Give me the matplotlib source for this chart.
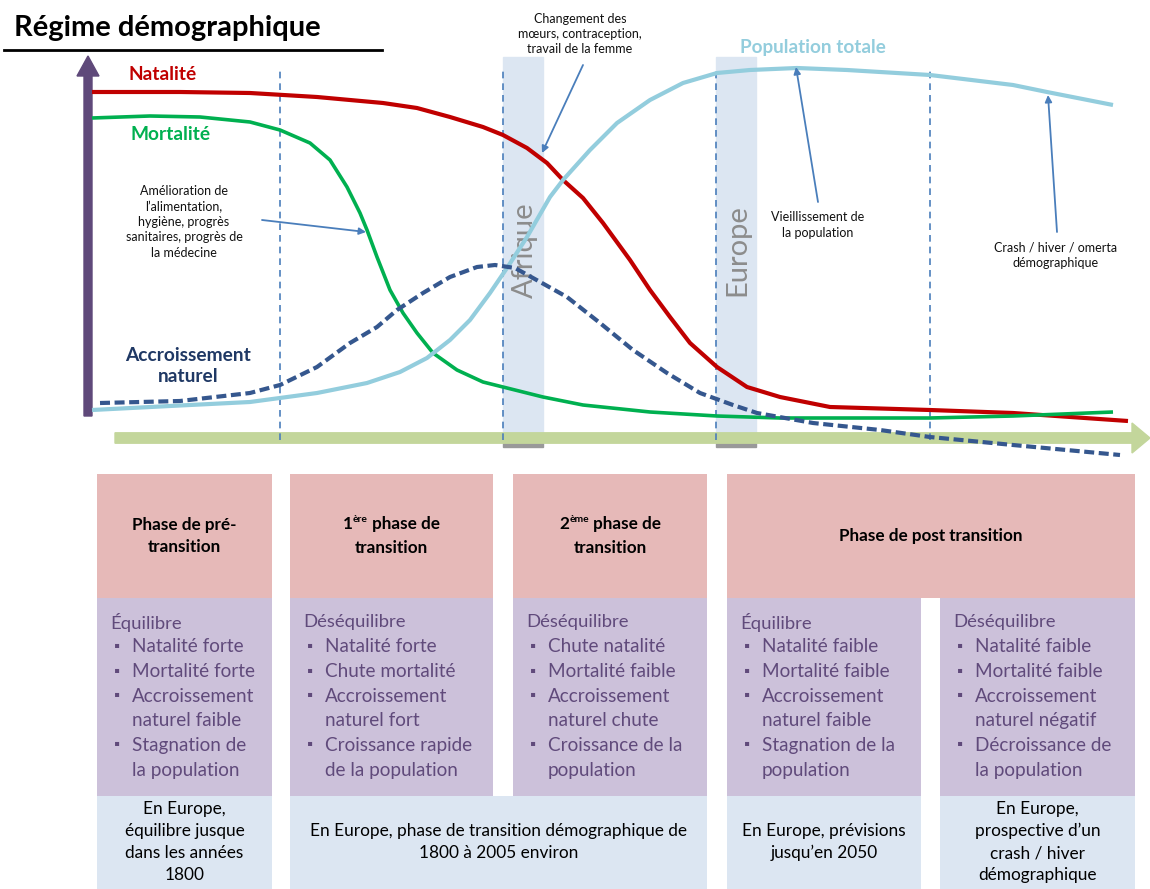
import matplotlib
matplotlib.use('Agg')
import matplotlib.pyplot as plt
from matplotlib.patches import Rectangle, FancyArrow

plt.rcParams['font.family'] = ['Lato', 'DejaVu Sans']

# Curves (schematic): t = time (0-105), value = rate / level (0-100)
nat_t = [0.2, 9, 16, 22.7, 29.3, 32.7, 36, 39.3, 41.3, 43.7, 45.7, 47.3, 49.3, 51.3, 54,
         56, 58, 60, 62.7, 65.7, 69, 74, 84, 92.3, 103.8]
nat_v = [92, 92, 91.75, 90.75, 89.25, 88, 85.75, 83.25, 81.25, 78, 74.25, 70, 65.5, 59.25,
         50, 42.5, 35.75, 29.25, 23.25, 18.25, 15.75, 13.25, 12.5, 11.75, 9.75]

mort_t = [0.2, 6, 11, 16, 19, 22, 24, 25.7, 27, 27.7, 28.7, 30, 31.3, 32.7, 34.3, 36.7,
          39.3, 41.3, 45.3, 49.3, 56, 62.7, 69, 76, 84, 92.3, 102.3]
mort_v = [85.5, 86, 85.75, 84.5, 82.5, 79.25, 75, 68.25, 61.75, 57.5, 50.75, 42.5, 36.75,
          31.75, 26.75, 22.5, 19.5, 18.25, 15.75, 13.75, 12, 11, 10.5, 10.5, 10.5, 11, 12]

pop_t = [0.2, 8, 16, 22.7, 27.7, 31, 33.7, 36, 38, 40, 41.7, 43.7, 46, 47.3, 50, 52.7,
         56, 59.3, 62.7, 66, 70.7, 75.7, 84, 92.3, 95.7, 102.3]
pop_v = [12.5, 13.5, 14.5, 16.75, 19.25, 22, 25.5, 30, 35, 41.75, 48, 55.75, 65.75, 70,
         77.5, 84.25, 90, 94.25, 96.75, 97.5, 98, 97.5, 96.25, 93.75, 92, 88.75]

acc_t = [1, 9, 16, 19, 22.7, 26, 28.7, 30.7, 33.3, 36, 38.7, 40.5, 42.5, 44.3, 47.7, 51,
         54.3, 57.7, 61, 64.3, 66.7, 72.3, 79, 84, 92.3, 103]
acc_v = [14.25, 14.75, 16.75, 18.75, 23.25, 29.25, 33.25, 37.5, 41.75, 45.75, 48.25,
         48.75, 48, 45.5, 40.75, 34.25, 27.5, 21.75, 16.75, 13.75, 11.75, 9.25, 7.5, 5.75,
         3.75, 1.25]

phase_bounds = [19, 41.3, 62.6, 84]
bands = [(41.3, 45.3, "Afrique"), (62.6, 66.6, "Europe")]

phase_titles = ["Phase de pré-\ntransition", None, None, "Phase de post transition"]
col_heads = ["Équilibre", "Déséquilibre", "Déséquilibre", "Équilibre", "Déséquilibre"]
col_items = [
    ["Natalité forte", "Mortalité forte", "Accroissement\nnaturel faible", "Stagnation de\nla population"],
    ["Natalité forte", "Chute mortalité", "Accroissement\nnaturel fort", "Croissance rapide\nde la population"],
    ["Chute natalité", "Mortalité faible", "Accroissement\nnaturel chute", "Croissance de la\npopulation"],
    ["Natalité faible", "Mortalité faible", "Accroissement\nnaturel faible", "Stagnation de la\npopulation"],
    ["Natalité faible", "Mortalité faible", "Accroissement\nnaturel négatif", "Décroissance de\nla population"],
]
bottom_texts = ["En Europe,\néquilibre jusque\ndans les années\n1800",
                "En Europe, phase de transition démographique de\n1800 à 2005 environ",
                "En Europe, prévisions\njusqu’en 2050",
                "En Europe,\nprospective d’un\ncrash / hiver\ndémographique"]

RED = '#C00000'
GREEN = '#00B050'
LBLUE = '#93CDDD'
DBLUE = '#35578E'
NAVY = '#1F3864'
ARROW = '#4A7EBB'
PINK = '#E6B9B8'
LILAC = '#CCC1DA'
PALE = '#DCE6F2'
PURPLE_TXT = '#604A7B'

fig = plt.figure(figsize=(11.5, 8.89), dpi=100)
bg = fig.add_axes([0, 0, 1, 1])
bg.set_xlim(0, 1150)
bg.set_ylim(889, 0)
bg.axis('off')
px = bg.transData

# title
bg.text(14, 28, "Régime démographique", fontsize=21, fontweight='bold', va='center', ha='left')
bg.plot([4, 382], [50, 50], color='black', lw=2)

# chart area
ch = fig.add_axes([90 / 1150, (889 - 460) / 889, 1050 / 1150, 400 / 889])
ch.set_xlim(0, 105)
ch.set_ylim(0, 100)
ch.axis('off')
ch.patch.set_alpha(0)

for x0, x1, name in bands:
    ch.add_patch(Rectangle((x0, 5), x1 - x0, 95.75, color=PALE, zorder=1, clip_on=False))
    ch.add_patch(Rectangle((x0, 3.2), x1 - x0, 1.1, color='#999999', zorder=1, clip_on=False))
    ch.text((x0 + x1) / 2 + 0.15, 52.5, name, rotation=90, fontsize=21, color='#8C8C8C',
            ha='center', va='center', zorder=2)

# axes arrows
ch.add_patch(FancyArrow(-0.2, 11, 0, 90, width=0.8, head_width=2.2, head_length=5,
                        length_includes_head=True, color='#5F497A', zorder=2, clip_on=False))
ch.add_patch(FancyArrow(2.5, 5.5, 103.5, 0, width=2.6, head_width=7.5, head_length=1.8,
                        length_includes_head=True, color='#C3D69B', zorder=2, clip_on=False))

for b in phase_bounds:
    ch.plot([b, b], [5, 97.5], color=ARROW, lw=1.2, ls=(0, (4, 3)), zorder=3, clip_on=False)

ch.plot(nat_t, nat_v, color=RED, lw=3, zorder=4, clip_on=False, solid_capstyle='butt')
ch.plot(mort_t, mort_v, color=GREEN, lw=2.6, zorder=4, clip_on=False, solid_capstyle='butt')
ch.plot(pop_t, pop_v, color=LBLUE, lw=3, zorder=4, clip_on=False, solid_capstyle='butt')
ch.plot(acc_t, acc_v, color=DBLUE, lw=3, ls=(0, (2.4, 1.1)), zorder=5, clip_on=False)

# curve labels
ch.text(128, 75, "Natalité", transform=px, color=RED, fontsize=13.8, fontweight='bold', va='center')
ch.text(130, 134, "Mortalité", transform=px, color=GREEN, fontsize=13.8, fontweight='bold', va='center')
ch.text(188, 366, "Accroissement\nnaturel", transform=px, color=NAVY, fontsize=13.8,
        fontweight='bold', ha='center', va='center', linespacing=1.3)
ch.text(813, 48, "Population totale", transform=px, color=LBLUE, fontsize=13.6,
        fontweight='bold', ha='center', va='center')

# annotations
notes = [
    ("Changement des\nmœurs, contraception,\ntravail de la femme", (580, 34), (583, 65), (542, 153)),
    ("Amélioration de\nl’alimentation,\nhygiène, progrès\nsanitaires, progrès de\nla médecine",
     (184, 222), (262, 220), (366, 232)),
    ("Vieillissement de\nla population", (818, 225), (818, 202), (796, 67)),
    ("Crash / hiver / omerta\ndémographique", (1056, 255), (1057, 232), (1048, 95)),
]
for txt, (tx, ty), tail, tip in notes:
    ch.text(tx, ty, txt, transform=px, fontsize=9, ha='center', va='center', linespacing=1.33,
            color='#111111')
    ch.annotate('', xy=tip, xytext=tail, xycoords=px, textcoords=px,
                arrowprops=dict(arrowstyle='-|>', color=ARROW, lw=1.3, shrinkA=0, shrinkB=0,
                                mutation_scale=10), zorder=6)

# boxes
header_x = [(97, 272), (290, 493), (513, 707), (727, 1135)]
col_x = [(97, 272), (290, 493), (513, 707), (727, 921), (940, 1135)]
bottom_x = [(97, 272), (290, 707), (727, 921), (940, 1135)]

for x0, x1 in header_x:
    bg.add_patch(Rectangle((x0, 474), x1 - x0, 124, color=PINK, lw=0))
for x0, x1 in bottom_x:
    bg.add_patch(Rectangle((x0, 796), x1 - x0, 93, color=PALE, lw=0))
for x0, x1 in col_x:
    bg.add_patch(Rectangle((x0, 598), x1 - x0, 198, color=LILAC, lw=0))

HEAD_FS = 12.3

for (x0, x1), title in zip(header_x, phase_titles):
    if title is not None:
        bg.text((x0 + x1) / 2, 536, title, fontsize=HEAD_FS, fontweight='bold', ha='center',
                va='center', linespacing=1.5)

renderer = fig.canvas.get_renderer()


def sup_line(cx, y, base, sup, rest, size):
    parts = [bg.text(0, y, base, fontsize=size, fontweight='bold', va='center'),
             bg.text(0, y - 5, sup, fontsize=size * 0.6, fontweight='bold', va='center'),
             bg.text(0, y, rest, fontsize=size, fontweight='bold', va='center')]
    widths = [p.get_window_extent(renderer).width for p in parts]
    x = cx - sum(widths) / 2
    for p, w in zip(parts, widths):
        p.set_x(x)
        x += w


for (x0, x1), num, sup in [(header_x[1], "1", "ère"), (header_x[2], "2", "ème")]:
    cx = (x0 + x1) / 2
    sup_line(cx, 524, num, sup, " phase de", HEAD_FS)
    bg.text(cx, 548, "transition", fontsize=HEAD_FS, fontweight='bold', ha='center', va='center')

for (x0, x1), head, items in zip(col_x, col_heads, col_items):
    bg.text(x0 + 13, 622, head, fontsize=13.3, color=PURPLE_TXT, va='center')
    y = 647
    for item in items:
        bg.text(x0 + 20, y, "▪", fontsize=11, color=PURPLE_TXT, va='center', ha='center')
        for line in item.split("\n"):
            bg.text(x0 + 35, y, line, fontsize=13.6, color=PURPLE_TXT, va='center')
            y += 24.6

for (x0, x1), txt in zip(bottom_x, bottom_texts):
    bg.text((x0 + x1) / 2, 842, txt, fontsize=12.4, ha='center', va='center', linespacing=1.45)

fig.savefig('out.png', dpi=100)
